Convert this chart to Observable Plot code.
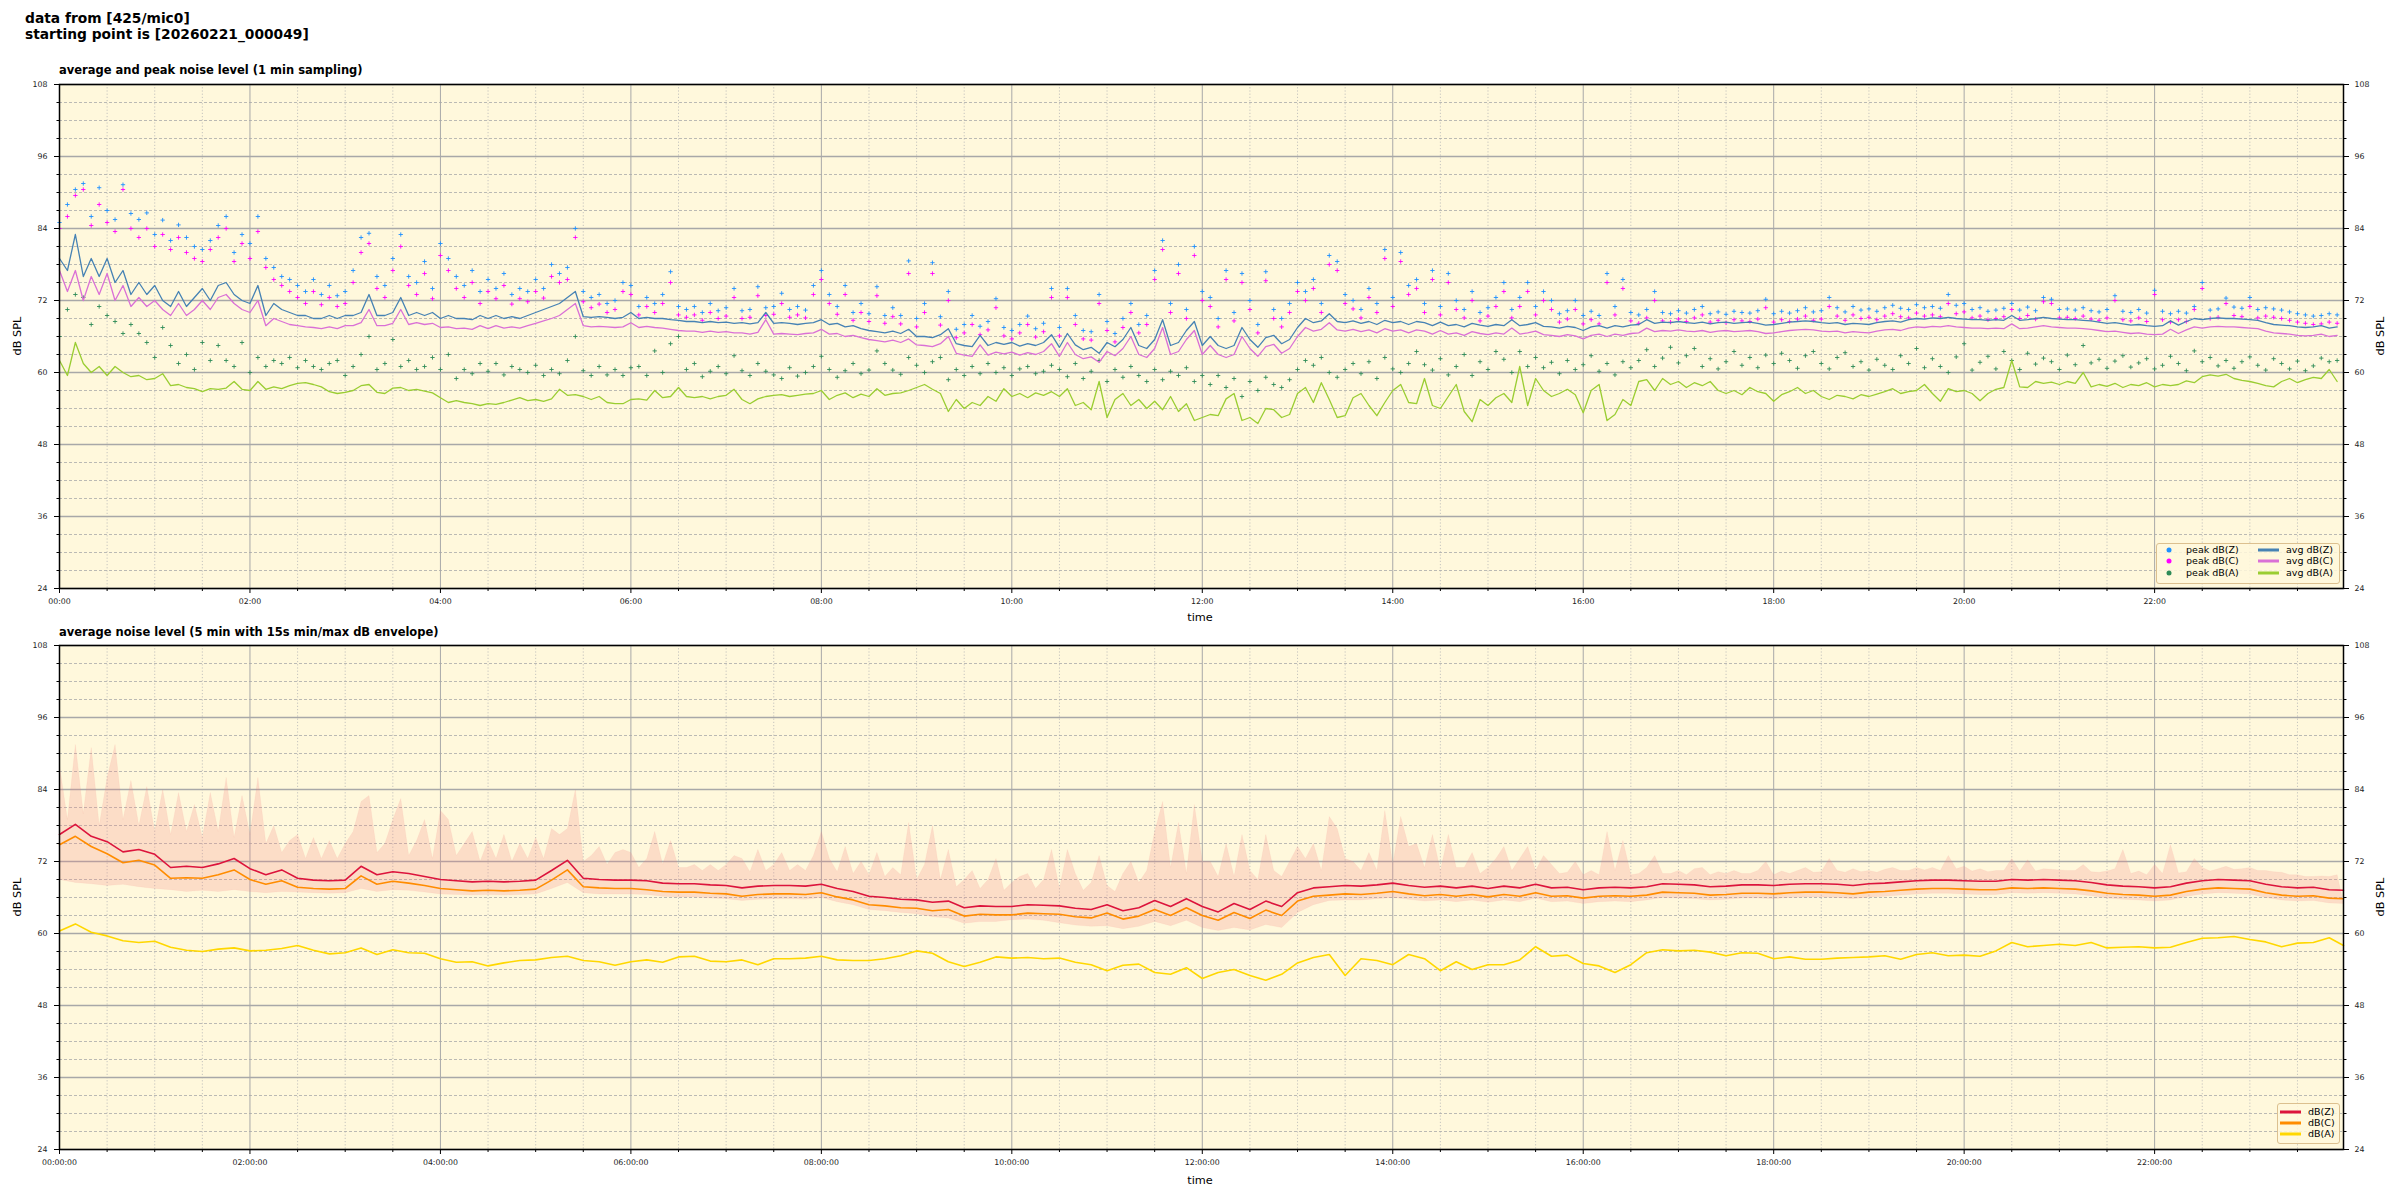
<!DOCTYPE html>
<html><head><meta charset="utf-8">
<script src="https://cdn.jsdelivr.net/npm/d3@7"></script>
<script src="https://cdn.jsdelivr.net/npm/@observablehq/plot@0.6"></script>
<style>
body{margin:0;background:#fff;font-family:"DejaVu Sans",sans-serif;color:#000;}
#root{position:relative;width:2400px;height:1200px;overflow:hidden;background:#fff;}
.abs{position:absolute;white-space:nowrap;}
.hdr{font-weight:bold;font-size:13.8px;line-height:16px;}
.ttl{font-weight:bold;font-size:11.5px;line-height:1;}
.lab{font-size:11.3px;line-height:1;}
.leg{position:absolute;border:1px solid #dcc08f;border-radius:3px;background:rgba(255,248,220,0.85);}
.lt{position:absolute;font-size:9.5px;line-height:1;white-space:nowrap;transform:translateY(-50%);}
.sw{position:absolute;height:3px;transform:translateY(-50%);}
.dt{position:absolute;width:5px;height:5px;border-radius:50%;transform:translate(-50%,-50%);}
svg{position:absolute;left:0;}
</style></head>
<body><div id="root"></div>
<script>
// ---------- text ----------
const headerLines = ["data from [425/mic0]", "starting point is [20260221_000049]"];
const topTitle = "average and peak noise level (1 min sampling)";
const botTitle = "average noise level (5 min with 15s min/max dB envelope)";
const yLabel = "dB SPL";
const xLabel = "time";
const topLegendPeak = ["peak dB(Z)", "peak dB(C)", "peak dB(A)"];
const topLegendAvg = ["avg dB(Z)", "avg dB(C)", "avg dB(A)"];
const botLegend = ["dB(Z)", "dB(C)", "dB(A)"];

// ---------- ticks ----------
const hourTicks = [0, 2, 4, 6, 8, 10, 12, 14, 16, 18, 20, 22];
const dbTicks = [24, 36, 48, 60, 72, 84, 96, 108];
const END_MIN = 1439;      // last sample 23:59
const STEP_TOP = 5;        // minutes between top-panel samples
const STEP_BOT = 10;       // minutes between bottom-panel line samples

// ---------- top panel: 1 min sampling (read every 5 min) ----------
const avgZ = [79,77,83,76,79,76,79,75,77,73,
75,73,74.5,72,71,73.5,71,72.5,74,72,
74.5,75,73,72,71.5,74.5,69.5,71.5,70.5,70,
69.5,69.5,69,69,69.5,69,69.5,69.5,70,73,
69.5,69.5,70,72.5,69.5,70,69.5,70,69,69.5,
69,69,68.8,69.5,69,69.5,69,69.3,69,69.5,
70,70.5,71,71.5,72.5,73.5,69.3,69.2,69.3,69.2,
69,69.2,70,69,69.2,69,69,68.8,68.7,68.5,
68.5,68.3,68.5,68.3,68.4,68.2,68.3,68.1,68.3,70,
68.2,68.3,68.2,68,68.2,68.3,68.8,68,68.2,67.6,
67.8,67.3,67,66.8,66.6,66.9,66.5,67.2,66,66,
65.8,66.3,67.3,64.8,64.5,64.3,66.2,64.5,65,64.7,
65,64.4,64.8,64.5,65,66.3,64.2,66.5,64.6,63.8,
64.2,63.2,65,64.3,65.5,67.5,64.5,64,65.5,68.8,
64.5,65,67,68.5,64.5,66,64.5,64,64.5,67.5,
65.5,64.2,65.8,66.2,64.8,65.5,67.5,69,68.3,68.6,
69.8,68.5,68.3,68.6,68.2,68.5,68,68.7,68.3,68.5,
68,68.5,68.3,67.8,68.4,67.8,68,67.6,68.2,67.9,
67.7,68,67.8,68.8,67.8,68,68.3,67.7,67.6,67.4,
67.7,67.5,67,67.6,67.8,67.4,67.8,67.6,67.9,68,
68.8,68.2,68.4,68.3,68.5,68.3,68.2,68.4,68.1,68.3,
68.4,68.2,68.3,68.4,68.2,67.9,68,68.2,68.4,68.5,
68.6,68.5,68.3,68.2,68.3,68,68.2,68.1,68,68.3,
68.5,68.6,68.4,68.8,69,68.9,69.1,69,69.2,69,
68.9,68.8,68.8,68.7,68.8,68.7,69.5,68.7,68.8,69,
69.2,69,68.9,68.8,68.8,68.7,68.6,68.4,68.2,68.3,
68.1,67.9,68,67.8,67.7,67.8,68.6,67.9,68.5,69,
68.8,69,69.1,69,69,68.9,68.8,68.7,68.3,68,
67.9,67.8,67.6,67.5,67.6,67.8,67.4,67.6];

const avgC = [77,73.5,77,72,76,73,76.5,72,74.5,71,
72.5,71,72,70.5,69.5,71.5,69.5,70.5,72,70.5,
72.5,73,71.5,70.5,70,72,67.8,69,68.5,68,
67.8,67.6,67.5,67.3,67.6,67.3,67.8,67.8,68.3,70.5,
67.8,67.8,68.2,70.5,68,68.3,68,68.2,67.5,67.6,
67.3,67.4,67.2,67.8,67.3,67.8,67.4,67.6,67.4,67.8,
68.2,68.6,69,69.5,70.5,71.5,67.8,67.6,67.7,67.6,
67.5,67.6,68.3,67.5,67.7,67.5,67.4,67.2,67,66.9,
66.9,66.7,66.9,66.7,66.8,66.6,66.6,66.4,66.7,68.8,
66.4,66.5,66.4,66.3,66.5,66.6,67.2,66.4,66.5,66,
66.2,65.8,65.5,65.3,65.1,65.4,65,65.6,64.6,64.5,
64.3,64.8,66,63.2,62.9,62.7,64.6,62.9,63.4,63.1,
63.4,62.9,63.3,63,63.5,64.8,62.7,65,63,62.3,
62.6,61.7,63.5,62.8,64,66,63,62.5,64,67.5,
63,63.5,65.5,67,63,64.5,63,62.5,63,66,
64,62.7,64.3,64.7,63.2,64,66,67.5,66.9,67.2,
68.3,67.1,66.9,67.2,66.8,67.1,66.6,67.3,66.9,67.1,
66.6,67.1,66.9,66.4,67,66.4,66.6,66.2,66.8,66.5,
66.3,66.6,66.4,67.4,66.4,66.6,66.9,66.3,66.2,66,
66.3,66.1,65.6,66.2,66.4,66,66.4,66.2,66.5,66.6,
67.4,66.8,67,66.9,67.1,66.9,66.8,67,66.7,66.9,
67,66.8,66.9,67,66.8,66.5,66.6,66.8,67,67.1,
67.2,67.1,66.9,66.8,66.9,66.6,66.8,66.7,66.6,66.9,
67.1,67.2,67,67.4,67.6,67.5,67.7,67.6,67.8,67.6,
67.5,67.4,67.4,67.3,67.4,67.3,68.1,67.3,67.4,67.6,
67.8,67.6,67.5,67.4,67.4,67.3,67.2,67,66.8,66.9,
66.7,66.5,66.6,66.4,66.3,66.4,67.2,66.5,67.1,67.6,
67.4,67.6,67.7,67.6,67.6,67.5,67.4,67.3,66.9,66.6,
66.5,66.4,66.2,66.1,66.2,66.4,66,66.2];

const avgA = [62,59.5,65,61.5,60,61,59.5,61,60,59.3,
59.5,58.8,59,59.8,57.8,58,57.5,57.3,56.8,57.3,
57.2,57.4,58.5,57.2,57,58.5,57.2,57.6,57.3,57.8,
58.2,58.3,58,57.6,56.8,56.5,56.7,57,57.8,58,
56.7,56.5,57.4,57.5,57,57.2,56.9,56.6,55.8,55,
55.3,55,54.8,54.5,54.8,54.7,55,55.4,55.8,55.3,
55.5,55.2,55.6,57.2,56.2,56.3,56,55.5,56,55,
54.8,54.8,55.5,55.6,55.4,57,55.8,56,57.5,56,
55.8,56,55.6,56,56.2,57.2,55.5,54.8,55.6,56,
56.2,56.3,56,56.2,56.4,56.5,57,55.5,56.2,56.6,
55.8,56.4,56,57.3,56.2,56.5,56.6,57,57.5,58,
57.2,56.5,53.5,55.5,54,55,54.5,56,55.2,57.3,
56,56.5,55.8,56.6,56.2,56.8,56,57.3,54.5,55,
53.8,58.5,52.5,55.5,56.5,54.5,55.5,54,55.2,53.8,
56,53.5,54.8,52,52.5,53,52.8,55.6,56.5,52,
52.5,51.5,54,53.8,52.5,53,56.5,57.5,55,58.3,
55.5,52.5,52.8,55.8,56.5,54.5,52.8,55,57,58,
55,54.8,59,54.5,54,56,58,53.5,51.8,55.5,
54.5,55.8,56.5,55,61,54.5,59,57,56,56.5,
57.2,56.3,53.3,57,58,52,53,55.5,54.5,58.5,
58.8,57,59,58,58.5,57.5,58.3,57.8,58.5,57,
56.5,57,56.3,57.5,56.8,56.5,55.2,56.3,56.8,57.5,
56.5,57,56,55.5,56.2,56,55.6,56.3,56,56.4,
56.8,57.3,56.5,56.8,57,58,56.5,55.2,57.3,56.8,
57,56.5,55.3,56.5,57.2,57.5,62,57.6,57.5,58.5,
58.2,58.4,58,58.5,58.2,60,57.6,58,57.7,58.2,
57.5,58,57.8,58.3,57.6,58,57.8,58,58.6,58.3,
59.3,59.6,59.4,59.7,59,58.7,58.5,58.2,57.8,57.6,
58.5,59,58.3,58.8,59.2,59,60.5,58.5];

const peakZ = [85,88,90.5,91.5,86,90.8,87,85.5,91.3,86.5,
85.5,86.6,83,85.4,82,84.6,82.5,81,80.5,82,
84.5,86,80,83,81.5,86,79,77.5,76,75.5,
74.5,73.5,75.5,73,74.5,72.8,73.5,77,82.5,83.2,
76,74.5,79,83,76,75,78.5,74,81.5,79,
76,74.5,77,73.5,75.5,74,76.5,73,74,73.5,
75.5,74,78,76.5,77.5,84,73.5,72.5,73,71.5,
72,75,74.5,71,72.5,71.5,73,76.8,71,70.5,
71,70,71.5,70.3,70.8,74,70.3,70.5,74.3,70.8,
71,73.2,70.5,71,70.4,74.5,77,73,71,74.5,
70,71.5,69.8,74.3,69.5,70.8,69.5,78.6,69,71.5,
78.3,69.3,73.5,67.2,68,69.5,67.7,68.5,72.3,67.5,
67,68,69.4,67.3,68.2,74,67.5,74,69.5,67,
66.8,73,68.5,66.5,69,71.5,68,69.5,77,82,
71.5,78,70.5,81,73.5,72.5,69,77,70,76.5,
72,68,76.8,70.5,69,71.5,75,73.5,75.5,71.5,
79.5,78.5,73,72,70.5,74,71.5,80.5,72.5,80,
74.5,75.5,71.5,77,71,76.5,72,70.5,73.5,70,
70.8,72.5,75,70.5,72.5,75,71,73.5,72,69.8,
70.3,72,69.5,70.2,69.5,76.5,71,75.5,70,69.6,
70.5,73.5,70,69.8,70.3,69.9,70.5,71,69.8,70.1,
69.7,70.2,70,69.9,70.3,72.2,69.8,70.2,69.9,70.3,
70.8,70.1,70.3,72.5,70.8,70.1,71,70.4,70.6,70.2,
70.8,71.2,70.7,70.5,71.3,70.8,71,70.7,73,71.2,
71.5,70.5,70.8,70.2,70.4,70.7,71.5,70.4,70.9,70.3,
72.5,72.2,70.5,70.6,70.4,70.8,70.3,70.1,70.5,72.8,
70.2,70,70.5,69.9,73.7,70.2,69.8,70.2,69.9,71,
75,70.4,70.6,72.4,70.9,70.7,72.5,70.5,70.8,70.6,
70.4,70.1,69.8,69.6,69.4,69.5,69.8,69.6];

const peakC = [84,86,89.5,90.5,84.5,88,85,83.5,90.5,84,
82.5,84,81,83,80.5,82.5,80,79,78.5,80.5,
82.5,84,78.5,81.5,79,83.5,77.5,75.5,74.5,73.5,
72.5,71.5,73.5,71.3,72.5,71,71.5,75,80,81.5,
74,72.5,77,81,74.5,73,76.5,72.3,79.5,77,
74,72.5,75,71.5,73.5,72.3,74.5,71.4,72.3,71.8,
73.5,72.4,76,75,75.5,82.5,71.8,70.8,71.4,70,
70.5,73.5,73,69.6,71,70,71.5,75,69.6,69.2,
69.6,68.7,70,69,69.4,72.5,69,69.2,72.8,69.5,
69.7,71.5,69.2,69.6,69.1,73,75.5,71.5,69.7,73,
68.7,70,68.5,72.8,68.2,69.3,68.1,76.5,67.6,70,
76.5,67.9,72,65.8,66.6,68,66.3,67.1,70.8,66.1,
65.6,66.6,68,65.9,66.8,72.5,66.1,72.5,68,65.6,
65.4,71.5,67,65.1,67.5,70,66.6,68,75.5,80.5,
70,76.5,69,79.5,72,71,67.6,75.5,68.6,75,
70.5,66.6,75.3,69,67.6,70,73.5,72,74,70,
78,77,71.5,70.6,69.1,72.5,70,79,71,78.5,
73,74,70,75.5,69.6,75,70.5,69.1,72,68.6,
69.4,71,73.5,69.1,71,73.5,69.6,72,70.5,68.4,
68.9,70.5,68.1,68.8,68.1,75,69.6,74,68.6,68.2,
69.1,72,68.6,68.4,68.9,68.5,69.1,69.6,68.4,68.7,
68.3,68.8,68.6,68.5,68.9,70.8,68.4,68.8,68.5,68.9,
69.4,68.7,68.9,71,69.4,68.7,69.6,69,69.2,68.8,
69.4,69.8,69.3,69.1,69.9,69.4,69.6,69.3,71.5,69.8,
70.1,69.1,69.4,68.8,69,69.3,70.5,69,69.5,68.9,
71.8,71.5,69.1,69.2,69,69.4,68.9,68.7,69.1,72,
68.8,68.6,69.1,68.5,73,68.8,68.4,68.8,68.5,70.5,
74,69,69.2,71.5,69.5,69.3,71,69.1,69.4,69.2,
69,68.7,68.4,68.2,68,68.1,68.4,68.2];

const peakA = [66,70.5,73,72.5,68,71,69.5,68.5,66.5,68,
66.5,65,62.5,67.5,64.5,61.5,63,60.5,65,62,
64.5,62,61,65,60,62.5,61,62,61.5,62.5,
60.8,62,61,60.5,61.5,62,59.5,61,63,66,
60.5,61.5,65.5,61,62,60.5,61,62.5,60.5,63,
59,60.5,59.8,61.5,60.2,61.5,59.6,61,60.5,60,
61.2,59.5,60.5,59.8,62,66,60.3,59.5,61,59.6,
60.5,59.5,60.8,61,59.5,63.6,60,64.8,66,60.5,
61.5,59.3,60.2,61,59.8,62.8,60.3,59.5,61.5,60.2,
59.6,59,60.8,59.4,60,61,62.7,60.5,59.2,60.3,
61.5,59.8,60.4,63.6,61.5,60.4,59.7,62.5,61.2,60,
61.8,62.5,58.8,60.5,59.5,61,59.8,61.5,60,60.8,
59.5,60.6,61,59.8,60.2,61.2,60.5,59.3,61.5,59,
60.2,62,58.5,60.5,59.2,61,59.5,58.5,60.5,58.8,
60.2,59.5,60.8,58.5,59.5,58,59.5,57.5,59,56,
58.5,57,59.2,58,57.5,58.8,60.5,62,61.2,62.5,
60,59.2,60.5,61.5,59.8,61.8,59,62.5,60.6,60,
61.5,63.5,61.3,60.4,62.3,59.6,61,63,59.5,61.8,
60.5,63.5,62.2,60,63.5,61,62.5,60.8,61.7,59.8,
62,60.5,61.3,62.8,60.2,61.5,59.6,61.8,60.8,62,
63.8,61,62.4,64.2,61.6,62.8,64,61,62.3,60.6,
61.8,63.5,61.2,62.5,60.8,62.9,61.5,63.2,62,60.7,
62.8,63.5,61.5,60.6,62.5,63.3,61,61.8,60.4,62.2,
61.2,60.5,62.8,61.5,64,60.8,62.3,61,60,62.6,
64.8,60.4,61.7,62.7,60.6,63.5,62,60.5,63.2,61.4,
62.4,61.8,60.5,62.9,61.3,64.5,61.6,62.2,60.7,61.9,
62.8,60.9,61.6,62.3,60.6,61.2,62.7,61.5,60.3,63.6,
61.8,62.5,61.1,62,60.7,61.8,62.6,61.2,60.4,62.3,
61.5,60.6,61.9,60.3,61.1,62.4,61.8,62];

// ---------- bottom panel: 5 min averages (read every 10 min, last at 23:59) ----------
const botZ = [76.5,78.2,76.2,75.3,73.6,74,73.2,71,71.2,71,
71.6,72.5,70.8,69.8,70.6,69.2,68.9,68.8,68.9,71.2,
69.8,70.3,70,69.5,69,68.8,68.6,68.7,68.6,68.7,
68.9,70.5,72.2,69.2,69,68.9,68.9,68.8,68.4,68.3,
68.3,68.1,68,67.6,67.9,68,68,67.9,68.2,67.5,
67,66.2,66,65.7,65.6,65.2,65.4,64.3,64.6,64.5,
64.5,64.8,64.7,64.6,64.2,64,64.8,63.8,64.3,65.5,
64.5,65.8,64.5,63.6,65,64,65.4,64.5,66.8,67.6,
67.8,68,67.9,68.1,68.4,68,67.7,67.9,67.6,67.9,
67.5,67.9,67.6,68.2,67.6,67.7,67.3,67.6,67.7,67.6,
67.8,68.3,68.2,68.1,67.8,67.9,68.1,68.1,68,68.2,
68.3,68.3,68.2,68,68.3,68.4,68.6,68.8,68.9,68.9,
68.8,68.7,68.7,69,68.9,69,68.9,68.8,68.5,68.1,
67.9,67.8,67.6,67.8,68.4,68.8,69,68.9,68.8,68.2,
67.8,67.6,67.7,67.3,67.2];

const botC = [74.8,76.2,74.5,73.3,71.8,72.2,71.4,69.2,69.3,69.2,
69.8,70.6,69,68.2,68.8,67.7,67.5,67.4,67.5,69.6,
68.2,68.7,68.4,68,67.5,67.3,67.1,67.2,67.1,67.2,
67.4,68.9,70.6,67.8,67.6,67.5,67.5,67.3,67,66.9,
66.9,66.7,66.6,66.2,66.5,66.6,66.6,66.5,66.8,66.1,
65.6,64.8,64.6,64.3,64.2,63.8,64,62.9,63.2,63.1,
63.1,63.4,63.3,63.2,62.8,62.6,63.4,62.4,62.9,64,
63,64.3,63,62.2,63.5,62.5,63.9,63,65.4,66.2,
66.4,66.6,66.5,66.7,67,66.6,66.3,66.5,66.2,66.5,
66.1,66.5,66.2,66.8,66.2,66.3,65.9,66.2,66.3,66.2,
66.4,66.9,66.8,66.7,66.4,66.5,66.7,66.7,66.6,66.8,
66.9,66.9,66.8,66.6,66.9,67,67.2,67.4,67.5,67.5,
67.4,67.3,67.3,67.6,67.5,67.6,67.5,67.4,67.1,66.7,
66.5,66.4,66.2,66.4,67,67.4,67.6,67.5,67.4,66.8,
66.4,66.2,66.3,65.9,65.8];

const botA = [60.4,61.6,60.2,59.6,58.8,58.5,58.7,57.7,57.2,57,
57.4,57.6,57.1,57.2,57.5,58,57.2,56.6,56.8,57.6,
56.5,57.3,56.8,56.7,55.8,55.2,55.3,54.6,55.1,55.5,
55.6,56,56.2,55.5,55.3,54.7,55.3,55.6,55.2,56.1,
56.2,55.4,55.3,55.6,54.8,55.8,55.8,55.9,56.2,55.6,
55.5,55.5,55.8,56.3,57.1,56.7,55.3,54.5,55.2,56.1,
55.9,56,55.8,55.9,55.2,54.8,53.8,54.7,54.9,53.5,
53.2,54.3,52.5,53.5,54,53,52.2,53.2,55.1,56,
56.5,53,55.8,55.5,54.8,56.5,55.8,53.8,55.3,54,
54.8,54.8,55.6,57.8,56.2,56.4,55,54.6,53.5,54.8,
56.8,57.3,57.1,57.2,56.9,56.3,56.8,56.7,55.8,56.1,
55.7,55.7,55.9,56,56.1,56.3,55.7,56.5,56.8,56.3,
56.4,56.2,57.1,58.5,57.8,58,58.2,58,58.5,57.6,
57.7,57.8,57.6,57.7,58.5,59.2,59.3,59.5,59,58.6,
57.8,58.4,58.5,59.3,58];

// 15 s min/max envelope: max read every 5 min, min read every 10 min
const envMax = [88,79,91.5,80,91,78,86,91.5,79,85.5,
78,84.5,77,84,76.5,83.5,77,81.5,76,83.5,
77,86,76,83,76.5,86,75,78,73.5,75.5,
76.5,72.5,76,72.5,75.5,72.5,75,77,82,83,
73.5,75,79,82.5,73,75.5,79,72.5,80.5,79,
73,75,77,72,75.5,72.5,76.5,72,75,72.5,
76,72.5,77.5,76.5,77.5,84,72,73,74.5,71.5,
73.5,74,73.5,71,72.5,77,71.5,75.5,71,71,
71.5,70.5,71.5,70.5,71.5,73,72.5,70.3,74,70.5,
71.5,73.5,70.5,71.5,70.5,73,77,72.5,70.3,74.5,
70,72,69.8,73.5,69.5,71,69.8,78.5,69,71.5,
78,69,74,67.8,69,70.5,67.5,69,72.5,67.2,
68.5,69.5,70,67.5,69,74,67.5,74,70,67.2,
68.5,73,68,67,70,72,68.5,70.5,77,82,
71,78.5,70,81.5,72,72,69.5,75,69.5,76.5,
70.5,69,76.5,70.5,69.5,72,74.5,72.5,75,70.5,
79.5,77.5,72.5,72,70.5,73.5,70.5,80.5,71.5,79.5,
74.5,75,71,76.5,70.5,76.5,71,71,73.5,70,
71,72.5,74.5,70.5,72.5,74.5,70.5,73,71.5,70,
70.2,72,69.8,70.5,69.8,77,70.5,75.5,69.8,70,
71,73,70,70,70.5,69.8,70.8,71,69.8,70.3,
70,70.5,70,70,70.5,72,69.8,70.4,70,70.5,
71,70.2,70.3,72.5,70.5,70.2,70.8,70.3,70.5,70.2,
70.7,71,70.5,70.5,71,70.6,71,70.5,73,70.8,
71.2,70.4,70.8,70.3,70.5,70.5,72.5,70.4,72.3,70.4,
70.8,70.7,70.6,70.5,70.5,71.5,70.3,70.2,70.4,70.8,
74,70,70.4,69.8,71.5,70,74.8,70.1,70.3,72.5,
71,70.4,70.8,71.2,70.7,70.8,71,70.5,70.5,70.3,
70.2,69.8,69.8,69.5,69.5,69.6,69.5,69.8];

const envMin = [69,68.5,68.3,68,68.2,67.8,67.5,67.3,67,67.2,
67,67.3,67,66.8,67,66.9,66.8,66.7,66.8,67.5,
67,67.3,67.2,66.9,66.6,66.5,66.4,66.5,66.4,66.5,
66.6,67.5,68.5,66.8,66.6,66.6,66.6,66.5,66.2,66.1,
66.1,65.9,65.8,65.5,65.7,65.8,65.8,65.7,66,65.3,
64.8,64,63.8,63.5,63.3,62.8,62.6,61.7,62,62,
62.3,62.4,62.2,61.8,61.4,61.2,61.3,60.8,61.2,62,
61.3,62.2,61,60.5,61,60.6,61.5,61,63.5,64.8,
65.5,65.6,65.6,65.8,66,65.7,65.4,65.6,65.3,65.6,
65.2,65.6,65.3,65.9,65.3,65.4,65,65.3,65.4,65.3,
65.6,66,65.9,65.8,65.6,65.7,65.9,65.9,65.8,66,
66.1,66.1,66,65.8,66.1,66.2,66.4,66.6,66.7,66.7,
66.6,66.5,66.5,66.8,66.7,66.8,66.7,66.6,66.3,65.9,
65.7,65.6,65.4,65.6,66.2,66.6,66.8,66.7,66.6,66,
65.6,65.4,65.5,65.1,65];

// ---------- colours ----------
const C = {
  bg: "#FFF8DC",
  peakZ: "#1E90FF", peakC: "#FF00FF", peakA: "#2E8B57",
  avgZ: "#4682B4", avgC: "#DA70D6", avgA: "#9ACD32",
  dbZ: "#DC143C", dbC: "#FF8C00", dbA: "#FFD700",
  env: "#F08080"
};

// ---------- build rows ----------
const nTop = Math.min(avgZ.length, avgC.length, avgA.length, peakZ.length, peakC.length, peakA.length);
const topRows = d3.range(nTop).map(i => ({
  t: i * STEP_TOP, avgZ: avgZ[i], avgC: avgC[i], avgA: avgA[i],
  peakZ: peakZ[i], peakC: peakC[i], peakA: peakA[i]
}));
const nBot = Math.min(botZ.length, botC.length, botA.length, envMin.length);
const botTime = j => (j === nBot - 1 ? END_MIN : j * STEP_BOT);
const botRows = d3.range(nBot).map(j => ({t: botTime(j), z: botZ[j], c: botC[j], a: botA[j], lo: envMin[j]}));
const envTop = envMax.map((v, i) => ({t: Math.min(i * STEP_TOP, END_MIN), v}));
const envPoly = envTop.concat(botRows.slice().reverse().map(d => ({t: d.t, v: d.lo})));

// ---------- ticks ----------
const xMajor = hourTicks.map(h => h * 60);
const xMinor = d3.range(0, END_MIN + 1, 30).filter(m => m % 120 !== 0);
const yMinor = d3.range(dbTicks[0], dbTicks[dbTicks.length - 1], 3).filter(v => !dbTicks.includes(v));
const pad = n => String(n).padStart(2, "0");
const fmtHM = m => `${pad(Math.floor(m / 60))}:${pad(m % 60)}`;
const fmtHMS = m => `${fmtHM(m)}:00`;

function frameMarks() {
  return [
    Plot.frame({fill: C.bg, stroke: null}),
    Plot.ruleX(xMinor, {stroke: "#b8b8b8", strokeWidth: 0.8, strokeDasharray: "1.2,2"}),
    Plot.ruleY(yMinor, {stroke: "#a9a9a9", strokeWidth: 0.8, strokeDasharray: "3,2"}),
    Plot.ruleX(xMajor, {stroke: "#a8a8a8", strokeWidth: 1}),
    Plot.ruleY(dbTicks, {stroke: "#a8a8a8", strokeWidth: 1.6})
  ];
}
function axisMarks(fmt) {
  return [
    Plot.frame({stroke: "#000", strokeWidth: 1.5}),
    Plot.axisX({ticks: xMajor, tickFormat: fmt, tickSize: 5, tickPadding: 5, label: null, fill: "#222"}),
    Plot.axisX({ticks: xMinor, tickFormat: () => "", tickSize: 3, label: null}),
    Plot.axisY({ticks: dbTicks, anchor: "left", tickSize: 5, tickPadding: 7, label: null, fill: "#222"}),
    Plot.axisY({ticks: yMinor, anchor: "left", tickSize: 2.5, tickFormat: () => "", label: null}),
    Plot.axisY({ticks: dbTicks, anchor: "right", tickSize: 5, tickPadding: 6, label: null, fill: "#222"}),
    Plot.axisY({ticks: yMinor, anchor: "right", tickSize: 2.5, tickFormat: () => "", label: null})
  ];
}
const common = {
  width: 2400, marginLeft: 59, marginRight: 57,
  x: {type: "linear", domain: [0, END_MIN]},
  y: {domain: [dbTicks[0], dbTicks[dbTicks.length - 1]]},
  style: {fontFamily: "DejaVu Sans", fontSize: "7.8px", background: "transparent", overflow: "visible", color: "#000"}
};

const peakDot = (key, col) => Plot.dot(topRows, {x: "t", y: key, symbol: "plus", r: 1.5, stroke: col, strokeWidth: 0.9, fill: "none"});

const topPlot = Plot.plot({
  ...common, height: 570, marginTop: 24, marginBottom: 42,
  marks: [
    ...frameMarks(),
    peakDot("peakZ", C.peakZ),
    peakDot("peakC", C.peakC),
    peakDot("peakA", C.peakA),
    Plot.line(topRows, {x: "t", y: "avgZ", stroke: C.avgZ, strokeWidth: 1.3}),
    Plot.line(topRows, {x: "t", y: "avgC", stroke: C.avgC, strokeWidth: 1.3}),
    Plot.line(topRows, {x: "t", y: "avgA", stroke: C.avgA, strokeWidth: 1.3}),
    ...axisMarks(fmtHM)
  ]
});

const botPlot = Plot.plot({
  ...common, height: 570, marginTop: 15, marginBottom: 51,
  marks: [
    ...frameMarks(),
    Plot.line(envPoly, {x: "t", y: "v", fill: C.env, fillOpacity: 0.22, stroke: C.env, strokeOpacity: 0.12, strokeWidth: 0.6}),
    Plot.line(botRows, {x: "t", y: "z", stroke: C.dbZ, strokeWidth: 1.6}),
    Plot.line(botRows, {x: "t", y: "c", stroke: C.dbC, strokeWidth: 1.6}),
    Plot.line(botRows, {x: "t", y: "a", stroke: C.dbA, strokeWidth: 1.6}),
    ...axisMarks(fmtHMS)
  ]
});

// ---------- assemble ----------
const root = document.getElementById("root");
function addDiv(cls, text, css) {
  const d = document.createElement("div");
  d.className = cls; d.textContent = text;
  Object.assign(d.style, css);
  root.appendChild(d);
  return d;
}
topPlot.style.top = "60px";
botPlot.style.top = "630px";
root.appendChild(topPlot);
root.appendChild(botPlot);

addDiv("abs hdr", headerLines[0], {left: "25px", top: "10px"});
addDiv("abs hdr", headerLines[1], {left: "25px", top: "26px"});
addDiv("abs ttl", topTitle, {left: "59px", top: "64.5px"});
addDiv("abs ttl", botTitle, {left: "59px", top: "627px"});

// axis titles
[[18, 336], [2381, 336], [18, 897], [2381, 897]].forEach(([x, y]) =>
  addDiv("abs lab", yLabel, {left: x + "px", top: y + "px", transform: "translate(-50%,-50%) rotate(-90deg)"}));
[[1200, 618], [1200, 1181]].forEach(([x, y]) =>
  addDiv("abs lab", xLabel, {left: x + "px", top: y + "px", transform: "translate(-50%,-50%)"}));

// legends
addDiv("leg", "", {left: "2156px", top: "543px", width: "182px", height: "39px"});
const rowsTop = [549.5, 561, 572.5];
[C.peakZ, C.peakC, C.peakA].forEach((col, k) => {
  addDiv("dt", "", {left: "2169px", top: rowsTop[k] + "px", background: col});
  addDiv("lt", topLegendPeak[k], {left: "2186px", top: rowsTop[k] + "px"});
});
[C.avgZ, C.avgC, C.avgA].forEach((col, k) => {
  addDiv("sw", "", {left: "2258px", width: "21px", top: rowsTop[k] + "px", background: col});
  addDiv("lt", topLegendAvg[k], {left: "2286px", top: rowsTop[k] + "px"});
});
addDiv("leg", "", {left: "2277px", top: "1103px", width: "61px", height: "39px"});
const rowsBot = [1112, 1123, 1134];
[C.dbZ, C.dbC, C.dbA].forEach((col, k) => {
  addDiv("sw", "", {left: "2280px", width: "21px", top: rowsBot[k] + "px", background: col});
  addDiv("lt", botLegend[k], {left: "2308px", top: rowsBot[k] + "px"});
});
</script>
</body></html>
